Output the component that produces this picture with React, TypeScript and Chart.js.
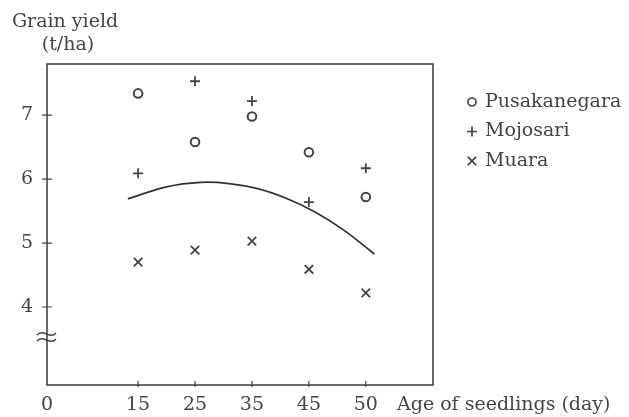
import React, { useEffect, useRef } from 'react';
import { Chart, registerables } from 'chart.js';

Chart.register(...registerables);

// ---- data (x = position of the age column, 0..4) ----
const AGE_LABELS = ['15', '25', '35', '45', '50'];
const PUSAKANEGARA = [7.34, 6.58, 6.98, 6.42, 5.72];
const MOJOSARI = [6.09, 7.53, 7.22, 5.64, 6.17];
const MUARA = [4.7, 4.89, 5.03, 4.59, 4.22];
const CURVE_X = [-0.18, 0.5, 1.1, 1.6, 2.1, 2.6, 3.1, 3.6, 4.15];
const CURVE_Y = [5.69, 5.88, 5.95, 5.93, 5.85, 5.7, 5.49, 5.21, 4.83];
const Y_TICKS = [4, 5, 6, 7];
const ORIGIN_LABEL = '0';
const BREAK_VALUE = 3.53;
const SERIES_NAMES = ['Pusakanegara', 'Mojosari', 'Muara'];
const Y_TITLE = ['Grain yield', '(t/ha)'];
const X_TITLE = 'Age of seedlings (day)';

const X_MIN = -1.6;
const X_MAX = 5.18;
const Y_MIN = 2.78;
const Y_MAX = 7.8;

const FONT = '"DejaVu Serif", serif';
const INK = '#444';
const LINE = '#444';
const FS = 19;

const toPoints = (vals: number[]) => vals.map((v, i) => ({ x: i, y: v }));

function drawMarker(ctx: CanvasRenderingContext2D, style: string, x: number, y: number) {
  ctx.beginPath();
  if (style === 'circle') {
    ctx.arc(x, y, 4, 0, Math.PI * 2);
  } else if (style === 'cross') {
    ctx.moveTo(x - 5, y); ctx.lineTo(x + 5, y);
    ctx.moveTo(x, y - 5); ctx.lineTo(x, y + 5);
  } else {
    const d = 4.2;
    ctx.moveTo(x - d, y - d); ctx.lineTo(x + d, y + d);
    ctx.moveTo(x - d, y + d); ctx.lineTo(x + d, y - d);
  }
  ctx.stroke();
}

const decorPlugin = {
  id: 'decor',
  beforeDatasetsDraw(chart: any) {
    const { ctx, chartArea: a, scales } = chart;
    const xs = scales.x, ys = scales.y;
    ctx.save();
    ctx.strokeStyle = LINE;
    ctx.lineWidth = 1.6;
    ctx.strokeRect(a.left, a.top, a.right - a.left, a.bottom - a.top);
    ctx.lineWidth = 1.2;
    // ticks crossing the axes
    ctx.beginPath();
    AGE_LABELS.forEach((_, i) => {
      const px = xs.getPixelForValue(i);
      ctx.moveTo(px, a.bottom - 4);
      ctx.lineTo(px, a.bottom + 2);
    });
    Y_TICKS.forEach((v) => {
      const py = ys.getPixelForValue(v);
      ctx.moveTo(a.left - 5, py);
      ctx.lineTo(a.left + 5, py);
    });
    ctx.stroke();
    // axis break symbol
    const by = ys.getPixelForValue(BREAK_VALUE);
    const l = a.left - 10;
    ctx.lineWidth = 1.5;
    [-3, 3].forEach((off) => {
      ctx.beginPath();
      ctx.moveTo(l, by + off + 1);
      ctx.bezierCurveTo(l + 6, by + off - 6, l + 13, by + off + 6, l + 19, by + off - 1);
      ctx.stroke();
    });
    ctx.restore();
  },
  afterDraw(chart: any) {
    const { ctx, chartArea: a, scales } = chart;
    ctx.save();
    ctx.fillStyle = INK;
    ctx.font = `${FS}px ${FONT}`;
    // y title
    ctx.textAlign = 'center';
    ctx.textBaseline = 'alphabetic';
    ctx.fillText(Y_TITLE[0], a.left + 18, 27);
    ctx.fillText(Y_TITLE[1], a.left + 21, 50);
    // x title, aligned with tick labels
    const xs = scales.x;
    const ly = xs.top + xs.options.ticks.padding + (FS * 1.2) / 2;
    ctx.textAlign = 'left';
    ctx.textBaseline = 'middle';
    ctx.fillText(X_TITLE, a.right - 36, ly);
    // legend
    const styles = ['circle', 'cross', 'crossRot'];
    ctx.strokeStyle = LINE;
    ctx.lineWidth = 1.7;
    SERIES_NAMES.forEach((name, i) => {
      const y = a.top + 38 + i * 29.5;
      drawMarker(ctx, styles[i], a.right + 39, y);
      ctx.fillText(name, a.right + 52, y);
    });
    ctx.restore();
  },
};

export default function App() {
  const ref = useRef<HTMLCanvasElement | null>(null);
  useEffect(() => {
    if (!ref.current) return;
    const markerBase = {
      type: 'scatter' as const,
      borderColor: LINE,
      backgroundColor: 'rgba(0,0,0,0)',
      borderWidth: 1.8,
      showLine: false,
    };
    const chart = new Chart(ref.current, {
      type: 'scatter',
      data: {
        datasets: [
          { ...markerBase, label: SERIES_NAMES[0], data: toPoints(PUSAKANEGARA), pointStyle: 'circle', pointRadius: 4.3, borderWidth: 2 },
          { ...markerBase, label: SERIES_NAMES[1], data: toPoints(MOJOSARI), pointStyle: 'cross', pointRadius: 5 },
          { ...markerBase, label: SERIES_NAMES[2], data: toPoints(MUARA), pointStyle: 'crossRot', pointRadius: 6 },
          {
            type: 'line',
            label: 'fit',
            data: CURVE_X.map((x, i) => ({ x, y: CURVE_Y[i] })),
            borderColor: '#333',
            borderWidth: 1.8,
            pointRadius: 0,
            tension: 0.4,
            fill: false,
          } as any,
        ],
      },
      options: {
        animation: false,
        responsive: false,
        devicePixelRatio: 1,
        layout: { padding: { left: 0, top: 64, right: 196, bottom: 0 } },
        plugins: { legend: { display: false }, tooltip: { enabled: false } },
        scales: {
          x: {
            type: 'linear',
            min: X_MIN,
            max: X_MAX,
            afterBuildTicks: (s: any) => {
              s.ticks = [X_MIN, ...AGE_LABELS.map((_, i) => i)].map((v) => ({ value: v }));
            },
            afterFit: (s: any) => { s.height = 32; },
            ticks: {
              callback: (v: any) => (v === X_MIN ? ORIGIN_LABEL : AGE_LABELS[v]),
              font: { family: FONT, size: FS },
              color: INK,
              padding: 9,
              maxRotation: 0,
              autoSkip: false,
            },
            grid: { display: false, drawTicks: false },
            border: { display: false },
          },
          y: {
            type: 'linear',
            min: Y_MIN,
            max: Y_MAX,
            afterBuildTicks: (s: any) => {
              s.ticks = Y_TICKS.map((v) => ({ value: v }));
            },
            afterFit: (s: any) => { s.width = 47; },
            ticks: {
              callback: (v: any) => String(v),
              font: { family: FONT, size: FS },
              color: INK,
              padding: 14,
              autoSkip: false,
            },
            grid: { display: false, drawTicks: false },
            border: { display: false },
          },
        },
      },
      plugins: [decorPlugin],
    });
    return () => chart.destroy();
  }, []);
  return (
    <div style={{ position: 'absolute', left: 0, top: 0, width: 629, height: 417, background: '#fff' }}>
      <canvas ref={ref} width={629} height={417} />
    </div>
  );
}
